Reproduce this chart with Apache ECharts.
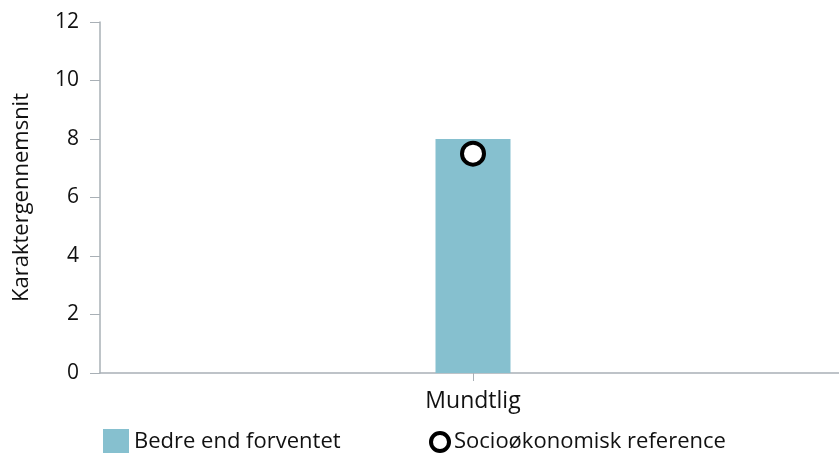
<!DOCTYPE html>
<html><head><meta charset="utf-8">
<script src="https://cdn.jsdelivr.net/npm/echarts@6/dist/echarts.min.js"></script>
<style>html,body{margin:0;padding:0;background:#fff}#c{width:839px;height:453px}</style>
</head><body><div id="c"></div>
<script>
const categories = ['Mundtlig'];
const barValues = [8];
const refValues = [7.5];
const barName = 'Bedre end forventet';
const refName = 'Socioøkonomisk reference';
const yAxisName = 'Karaktergennemsnit';

const font = '"Open Sans", "Noto Sans", sans-serif';
const axisColor = '#A9B0B6';
const chart = echarts.init(document.getElementById('c'));
chart.setOption({
  animation: false,
  textStyle: { fontFamily: font },
  grid: { left: 100, width: 746, top: 22, bottom: 80, containLabel: false, outerBoundsMode: 'none' },
  legend: [
    { data: [{ name: barName, icon: 'rect' }], left: 98, top: 424, itemWidth: 26, itemHeight: 26, itemGap: 0,
      textStyle: { fontSize: 22, color: '#111', fontFamily: font } },
    { data: [{ name: refName, icon: 'circle', itemStyle: { color: '#fff', borderColor: '#000', borderWidth: 4 } }],
      left: 424, top: 426, itemWidth: 18, itemHeight: 18,
      textStyle: { fontSize: 22, color: '#111', fontFamily: font } }
  ],
  xAxis: {
    type: 'category', data: categories,
    axisLine: { lineStyle: { color: axisColor, width: 1.5 } },
    axisTick: { show: true, alignWithLabel: true, length: 8, lineStyle: { color: axisColor } },
    axisLabel: { fontSize: 23, color: '#111', margin: 17 }
  },
  yAxis: {
    type: 'value', min: 0, max: 12, interval: 2,
    name: yAxisName, nameLocation: 'middle', nameGap: 67, nameRotate: 90,
    nameTextStyle: { fontSize: 22, color: '#111' },
    splitLine: { show: false },
    axisLine: { show: true, lineStyle: { color: axisColor, width: 1.5 } },
    axisTick: { show: true, length: 10, lineStyle: { color: axisColor } },
    axisLabel: { fontSize: 21, color: '#111', margin: 21 }
  },
  series: [
    { name: barName, type: 'bar', data: barValues, barWidth: 75, itemStyle: { color: '#86C0CF' } },
    { name: refName, type: 'scatter', data: refValues, symbol: 'circle', symbolSize: 22,
      itemStyle: { color: '#fff', borderColor: '#000', borderWidth: 4, opacity: 1 }, z: 5 }
  ]
});
</script></body></html>
